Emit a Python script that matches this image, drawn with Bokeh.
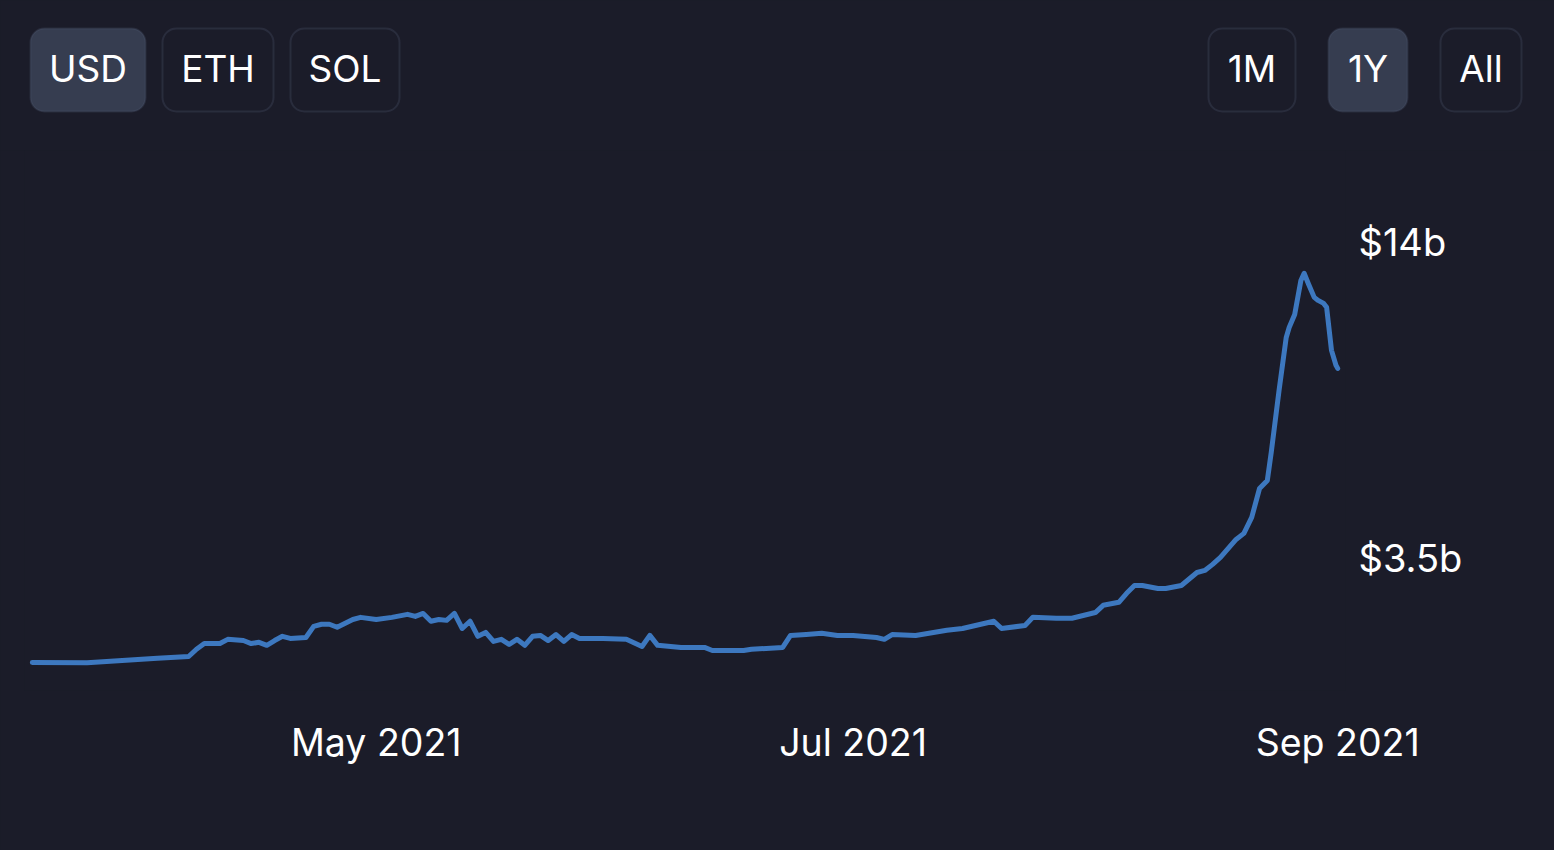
import pandas as pd
from bokeh.plotting import figure
from bokeh.layouts import column
from bokeh.models import (Range1d, FixedTicker, DatetimeTickFormatter, LinearAxis,
                          BoxAnnotation, ColumnDataSource)
from bokeh.core.properties import value
from bokeh.embed import file_html
from bokeh.resources import INLINE

# ---------------- data (TVL, billions USD) ----------------
dates = [
    "2021-03-18", "2021-03-25", "2021-04-03", "2021-04-07", "2021-04-08", "2021-04-09",
    "2021-04-11", "2021-04-12", "2021-04-14", "2021-04-15", "2021-04-16", "2021-04-17",
    "2021-04-18", "2021-04-19", "2021-04-20", "2021-04-22", "2021-04-23", "2021-04-24",
    "2021-04-25", "2021-04-26", "2021-04-28", "2021-04-29", "2021-05-01", "2021-05-03",
    "2021-05-05", "2021-05-06", "2021-05-07", "2021-05-08", "2021-05-09", "2021-05-10",
    "2021-05-11", "2021-05-12", "2021-05-13", "2021-05-14", "2021-05-15", "2021-05-16",
    "2021-05-17", "2021-05-18", "2021-05-19", "2021-05-20", "2021-05-21", "2021-05-22",
    "2021-05-23", "2021-05-24", "2021-05-25", "2021-05-26", "2021-05-27", "2021-05-30",
    "2021-06-02", "2021-06-04", "2021-06-05", "2021-06-06", "2021-06-09", "2021-06-12",
    "2021-06-13", "2021-06-17", "2021-06-18", "2021-06-22", "2021-06-23", "2021-06-25",
    "2021-06-27", "2021-06-29", "2021-07-01", "2021-07-04", "2021-07-05", "2021-07-06",
    "2021-07-09", "2021-07-13", "2021-07-15", "2021-07-19", "2021-07-20", "2021-07-23",
    "2021-07-24", "2021-07-27", "2021-07-29", "2021-08-01", "2021-08-02", "2021-08-04",
    "2021-08-05", "2021-08-06", "2021-08-07", "2021-08-09", "2021-08-10", "2021-08-12",
    "2021-08-14", "2021-08-15", "2021-08-16", "2021-08-17", "2021-08-19", "2021-08-20",
    "2021-08-21", "2021-08-22", "2021-08-23", "2021-08-23 12:00", "2021-08-24 12:00",
    "2021-08-25 10:00", "2021-08-25 19:00", "2021-08-26 12:00", "2021-08-27 07:00",
    "2021-08-27 17:00", "2021-08-28 07:00", "2021-08-29 00:00", "2021-08-29 12:00",
    "2021-08-30 05:00", "2021-08-30 14:00", "2021-08-31 05:00", "2021-08-31 19:00",
    "2021-09-01 00:00",
]
tvl_billions = [
    0.03, 0.02, 0.17, 0.23, 0.47, 0.66,
    0.66, 0.80, 0.76, 0.66, 0.70, 0.60,
    0.76, 0.90, 0.83, 0.86, 1.23, 1.30,
    1.30, 1.20, 1.46, 1.53, 1.46, 1.53,
    1.63, 1.56, 1.66, 1.40, 1.46, 1.43,
    1.66, 1.16, 1.40, 0.90, 1.03, 0.73,
    0.80, 0.63, 0.80, 0.60, 0.90, 0.93,
    0.76, 0.96, 0.73, 0.96, 0.83, 0.83,
    0.80, 0.56, 0.93, 0.60, 0.53, 0.53,
    0.43, 0.43, 0.47, 0.53, 0.93, 0.96,
    1.00, 0.93, 0.93, 0.86, 0.80, 0.96,
    0.93, 1.10, 1.16, 1.40, 1.16, 1.26,
    1.53, 1.50, 1.50, 1.69, 1.93, 2.03,
    2.33, 2.59, 2.59, 2.49, 2.49, 2.59,
    3.02, 3.09, 3.29, 3.52, 4.12, 4.32,
    4.85, 5.81, 6.08, 7.01, 9.07,
    10.83, 11.16, 11.59, 12.72,
    12.96, 12.59, 12.16, 12.06,
    11.96, 11.83, 10.40, 9.90,
    9.80,
]
x_tick_dates = ["2021-05-01", "2021-07-01", "2021-09-01"]
y_ticks = [3.5, 14]
y_tick_labels = ["$3.5b", "$14b"]

currency_buttons = ["USD", "ETH", "SOL"]
period_buttons = ["1M", "1Y", "All"]
active_buttons = ["USD", "1Y"]

# ---------------- style ----------------
BG = "#1b1c29"
LINE = "#3d78bf"
BTN_ACTIVE = "#363d50"
BTN_BORDER = "#4c566e"
TEXT = "#ffffff"
FONT = "Inter"
W, H = 1554, 850
FRAME_L, FRAME_R = 24, 1345     # page px of the chart frame
TOP_H = 150

# ---------------- top button bar ----------------
top = figure(width=W, height=TOP_H, x_range=Range1d(0, W),
             y_range=Range1d(TOP_H, 0),
             output_backend="svg", toolbar_location=None, min_border=0)
top.frame_align = False
top.axis.visible = False
top.grid.visible = False
top.outline_line_color = None
top.background_fill_color = BG
top.border_fill_color = BG

btn_boxes = {
    "USD": (30, 145), "ETH": (162, 273), "SOL": (290, 399),
    "1M": (1208, 1295), "1Y": (1328, 1407), "All": (1440, 1521),
}
btn_top, btn_bottom = 28, 111
bx, by, bt = [], [], []
for name in currency_buttons + period_buttons:
    l, r = btn_boxes[name]
    top.add_layout(BoxAnnotation(
        left=l, right=r, top=btn_top, bottom=btn_bottom,
        fill_color=BTN_ACTIVE if name in active_buttons else BG, fill_alpha=1,
        line_color=BTN_BORDER, line_width=2, border_radius=14,
        level="underlay"))
    bx.append((l + r) / 2)
    by.append((btn_top + btn_bottom) / 2 - 2)
    bt.append(name)
top.text(x=bx, y=by, text=bt, text_font=value(FONT), text_font_size="37px",
         text_color=TEXT, text_align="center", text_baseline="middle")

# ---------------- main chart ----------------
xs = [pd.Timestamp(d) for d in dates]
src = ColumnDataSource(dict(x=xs, y=tvl_billions))

p = figure(width=W, height=H - TOP_H, x_axis_type="datetime",
           x_range=Range1d(pd.Timestamp("2021-03-17"), pd.Timestamp("2021-09-02")),
           y_range=Range1d(-0.90, 17.04),
           output_backend="svg", toolbar_location=None,
           min_border_left=FRAME_L, min_border_right=W - FRAME_R, min_border_top=0,
           min_border_bottom=160, y_axis_location=None)
p.frame_align = False
p.background_fill_color = BG
p.border_fill_color = BG
p.outline_line_color = None
p.grid.visible = False

p.line("x", "y", source=src, line_color=LINE, line_width=5, line_join="round",
       line_cap="round")

xa = p.xaxis[0]
xa.ticker = FixedTicker(ticks=[pd.Timestamp(d).value / 1e6 for d in x_tick_dates])
xa.formatter = DatetimeTickFormatter(days="%b %Y", months="%b %Y", years="%b %Y")
xa.axis_line_color = None
xa.major_tick_line_color = None
xa.minor_tick_line_color = None
xa.major_label_text_font = FONT
xa.major_label_text_font_size = "37.5px"
xa.major_label_text_color = TEXT
xa.major_label_standoff = 23

ya = LinearAxis(ticker=FixedTicker(ticks=y_ticks),
                major_label_overrides={t: s for t, s in zip(y_ticks, y_tick_labels)})
ya.axis_line_color = None
ya.major_tick_line_color = None
ya.minor_tick_line_color = None
ya.major_label_text_font = FONT
ya.major_label_text_font_size = "38px"
ya.major_label_text_color = TEXT
ya.major_label_standoff = 7
p.add_layout(ya, "right")

layout = column(top, p, spacing=0)
html = file_html(layout, INLINE)
html = html.replace("</head>",
                    "<style>html, body { background-color: %s; }</style></head>" % BG, 1)
open("out.html", "w").write(html)
